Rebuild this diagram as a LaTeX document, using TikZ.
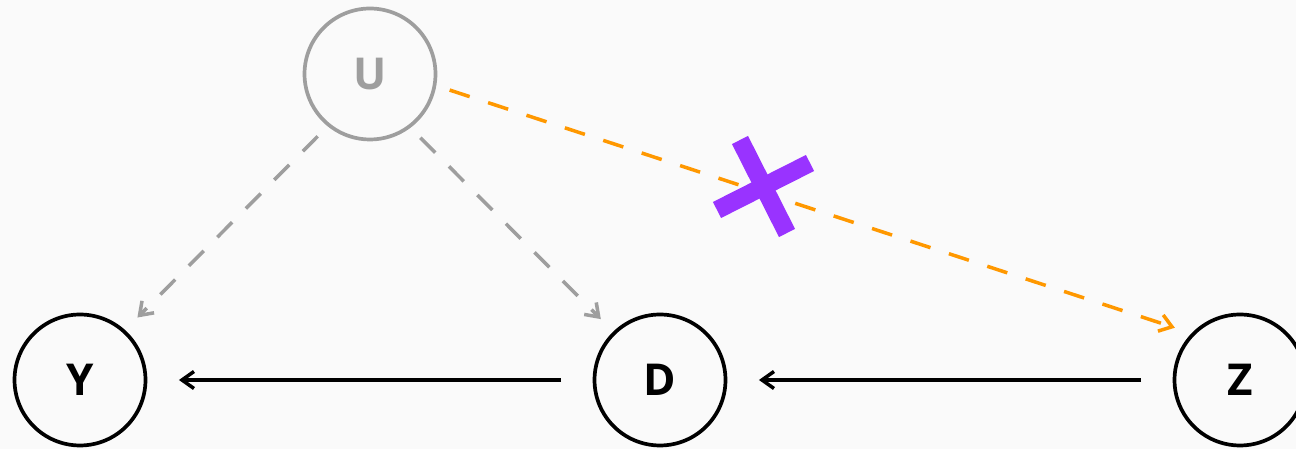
\documentclass[tikz,border=0pt]{standalone}
\usepackage{fontspec}
\setmainfont{Open Sans}
\definecolor{paper}{HTML}{FAFAFA}
\definecolor{hidden}{HTML}{9E9E9E}
\definecolor{amber}{HTML}{FF9800}
\definecolor{violet}{HTML}{9933FF}
\usetikzlibrary{arrows.meta,calc}

\begin{document}
\begin{tikzpicture}[x=0.02cm,y=0.02cm,
  var/.style={circle,draw=black,line width=2.1pt,minimum size=2.62cm,inner sep=0pt,
    font=\fontsize{25}{30}\selectfont\bfseries},
  latent/.style={var,draw=hidden,text=hidden},
  tip/.style={-{Straight Barb[length=0.24cm,width=0.34cm,line width=2pt]}},
  causal/.style={tip,line width=2pt,shorten <=18pt,shorten >=18pt},
  confound/.style={tip,line width=2pt,dash pattern=on 12pt off 11pt,shorten <=8pt,shorten >=10pt},
  cutmark/.style={violet,line width=0.36cm}]
  \clip (0,0) rectangle (1296,449);
  \fill[paper] (0,0) rectangle (1296,449);
  % variables
  \node[latent] (U) at (370,375) {U};
  \node[var] (Y) at (80,69) {Y};
  \node[var] (D) at (660,69) {D};
  \node[var] (Z) at (1240,69) {Z};
  % observed paths
  \draw[causal] (D) -- (Y);
  \draw[causal] (Z) -- (D);
  % unobserved confounding
  \draw[confound,hidden] (U.231) -- (Y.48);
  \draw[confound,hidden] (U.307) -- (D.134);
  \draw[confound,amber] (U.-10) -- (Z.136);
  % the excluded path is struck out
  \coordinate (cut) at (763,262);
  \draw[cutmark] ($(cut)+(-23,47)$) -- ($(cut)+(24,-46)$);
  \draw[cutmark] ($(cut)+(-46,-23)$) -- ($(cut)+(47,24)$);
\end{tikzpicture}
\end{document}
